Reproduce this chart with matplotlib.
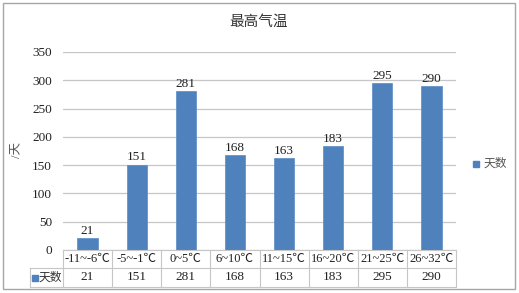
import matplotlib
matplotlib.use("Agg")
import matplotlib.pyplot as plt
from matplotlib.patches import Rectangle

#
# Data
#
categories = ["-11~-6℃", "-5~-1℃", "0~5℃", "6~10℃", "11~15℃", "16~20℃", "21~25℃", "26~32℃"]
days = [21, 151, 281, 168, 163, 183, 295, 290]
series_name = "天数"
title = "最高气温"
y_label = "/天"

bar_color = "#4F81BD"
line_color = "#C6C6C6"
text_color = "#222222"
fonts = ["Liberation Serif", "Noto Sans CJK SC", "DejaVu Sans"]
plt.rcParams["font.family"] = fonts
fs = 9.5

W, H = 519, 293
fig = plt.figure(figsize=(W / 100, H / 100), dpi=100)

# axes in pixel coordinates of the reference
ax_l, ax_r, ax_t, ax_b = 63, 456, 52, 250
ax = fig.add_axes([ax_l / W, 1 - ax_b / H, (ax_r - ax_l) / W, (ax_b - ax_t) / H])

n = len(categories)
x = list(range(n))
ax.bar(x, days, width=0.41, color=bar_color, edgecolor="#5B8BC6", linewidth=0.5, zorder=3)
for xi, v in zip(x, days):
    ax.text(xi, v + 2, str(v), ha="center", va="bottom", fontsize=fs, color=text_color)

ax.set_xlim(-0.5, n - 0.5)
ax.set_ylim(0, 350)
ax.set_yticks(range(0, 351, 50))
ax.tick_params(axis="y", length=0, labelsize=fs, pad=8, labelcolor=text_color)
ax.set_xticks([])
ax.grid(axis="y", color=line_color, linewidth=0.9, zorder=0)
for s in ax.spines.values():
    s.set_visible(False)

fig.text(17 / W, 1 - 150 / H, y_label, rotation=90, ha="center", va="center",
         fontsize=9, color="#555555")
fig.text(259 / W, 1 - 22 / H, title, ha="center", va="center", fontsize=10.5,
         color="#333333")

# data table under the axes
def fx(px):
    return px / W

def fy(py):
    return 1 - py / H

cw = (ax_r - ax_l) / n
r0, r1, r2 = 250, 268, 287
lw = 0.8
fig.add_artist(plt.Line2D([fx(ax_l), fx(ax_r)], [fy(r0), fy(r0)], color=line_color, lw=lw))
fig.add_artist(plt.Line2D([fx(30), fx(ax_r)], [fy(r1), fy(r1)], color=line_color, lw=lw))
fig.add_artist(plt.Line2D([fx(30), fx(ax_r)], [fy(r2), fy(r2)], color=line_color, lw=lw))
fig.add_artist(plt.Line2D([fx(30), fx(30)], [fy(r1), fy(r2)], color=line_color, lw=lw))
for i in range(n + 1):
    xp = ax_l + i * cw
    fig.add_artist(plt.Line2D([fx(xp), fx(xp)], [fy(r0), fy(r2)], color=line_color, lw=lw))
for i, (c, v) in enumerate(zip(categories, days)):
    xc = ax_l + (i + 0.5) * cw
    fig.text(fx(xc), fy((r0 + r1) / 2), c, ha="center", va="center", fontsize=9, color=text_color)
    fig.text(fx(xc), fy((r1 + r2) / 2), str(v), ha="center", va="center", fontsize=fs, color=text_color)
fig.add_artist(Rectangle((fx(32), fy(281)), 6 / W, 6 / H, color=bar_color))
fig.text(fx(38.5), fy((r1 + r2) / 2), series_name, ha="left", va="center", fontsize=8.5, color="#333333")

# legend
fig.add_artist(Rectangle((fx(473), fy(167)), 6 / W, 6 / H, color=bar_color))
fig.text(fx(484), fy(163.5), series_name, ha="left", va="center", fontsize=8.5, color="#555555")

# outer border
fig.add_artist(Rectangle((fx(3), fy(289)), (515 - 3) / W, (289 - 3) / H, fill=False,
                         edgecolor="#A6A6A6", lw=1.0))

fig.savefig("out.png", dpi=100)
